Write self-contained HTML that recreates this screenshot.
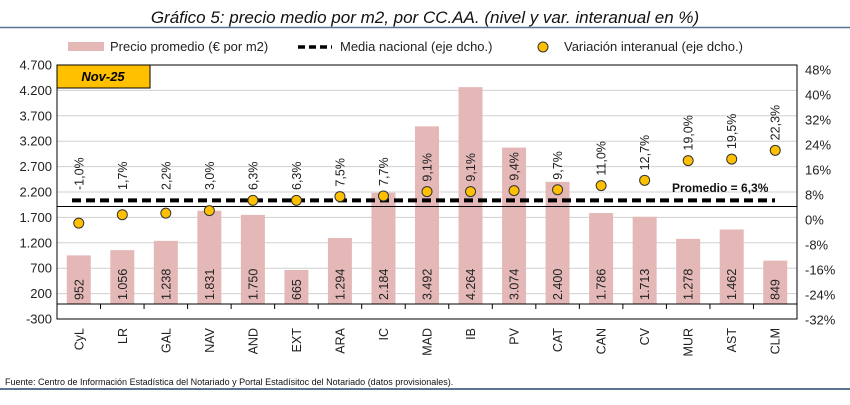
<!DOCTYPE html>
<html><head><meta charset="utf-8"><style>
html,body{margin:0;padding:0;background:#fff;}
svg{display:block;font-family:"Liberation Sans",sans-serif;}
</style></head><body>
<svg width="850" height="405" viewBox="0 0 850 405" xmlns="http://www.w3.org/2000/svg">
<text x="425" y="23" text-anchor="middle" font-size="17" font-style="italic" fill="#111">Gráfico 5: precio medio por m2, por CC.AA. (nivel y var. interanual en %)</text>
<line x1="0" y1="27.5" x2="850" y2="27.5" stroke="#5a7590" stroke-width="1.5"/>
<rect x="68" y="42" width="36" height="9" fill="#e5b8b8"/>
<text x="110" y="51" font-size="13" fill="#222">Precio promedio (€ por m2)</text>
<line x1="298" y1="47" x2="332" y2="47" stroke="#000" stroke-width="3.5" stroke-dasharray="7,4"/>
<text x="340" y="51" font-size="13" fill="#222">Media nacional (eje dcho.)</text>
<circle cx="543" cy="47" r="5" fill="#ffc000" stroke="#333"/>
<text x="564" y="51" font-size="13" fill="#222">Variación interanual (eje dcho.)</text>
<g id="g"></g>
<text x="5" y="385" font-size="9" fill="#111">Fuente: Centro de Información Estadística del Notariado y Portal Estadísitoc del Notariado (datos provisionales).</text>
<line x1="0" y1="389" x2="850" y2="389" stroke="#5a7590" stroke-width="2"/>
</svg>
<script>
var ns="http://www.w3.org/2000/svg",g=document.getElementById("g");
function el(t,a,txt){var e=document.createElementNS(ns,t);for(var k in a)e.setAttribute(k,a[k]);if(txt!=null)e.textContent=txt;g.appendChild(e);return e;}
var L=57,R=797,T=65,B=319;
function yl(v){return T+(4700-v)/5000*254;}
function yr(p){return 220-p*3.125;}
for(var v=-300;v<=4700;v+=500){var y=yl(v);el("line",{x1:L,x2:R,y1:y,y2:y,stroke:"#d0d0d0","stroke-width":1});
el("text",{x:52,y:y+4.5,"text-anchor":"end","font-size":13,fill:"#222"},(v).toLocaleString("de-DE"));}
for(var p=-32;p<=48;p+=8){el("text",{x:805,y:yr(p)+4.5,"font-size":13,fill:"#222"},p+"%");}
var cats=["CyL","LR","GAL","NAV","AND","EXT","ARA","IC","MAD","IB","PV","CAT","CAN","CV","MUR","AST","CLM"];
var vals=[952,1056,1238,1831,1750,665,1294,2184,3492,4264,3074,2400,1786,1713,1278,1462,849];
var pct=[-1.0,1.7,2.2,3.0,6.3,6.3,7.5,7.7,9.1,9.1,9.4,9.7,11.0,12.7,19.0,19.5,22.3];
var w=(R-L)/17;
for(var i=0;i<17;i++){var cx=L+w*(i+0.5);
el("rect",{x:cx-12,y:yl(vals[i]),width:24,height:yl(0)-yl(vals[i]),fill:"#e5b8b8"});
el("text",{transform:"translate("+(cx+4.5)+",300) rotate(-90)","font-size":12.5,fill:"#222"},vals[i].toLocaleString("de-DE"));
el("text",{transform:"translate("+(cx+4.5)+",328) rotate(-90)","text-anchor":"end","font-size":12.5,fill:"#222"},cats[i]);
}
el("line",{x1:L,x2:R,y1:206.5,y2:206.5,stroke:"#000","stroke-width":1});
el("line",{x1:L,x2:R,y1:304,y2:304,stroke:"#000","stroke-width":1});
for(var i=1;i<17;i++){var x=L+w*i;el("line",{x1:x,x2:x,y1:304,y2:309,stroke:"#000"});}
el("rect",{x:L,y:T,width:R-L,height:B-T,fill:"none",stroke:"#000","stroke-width":1});
el("line",{x1:72,x2:775,y1:yr(6.3),y2:yr(6.3),stroke:"#000","stroke-width":4,"stroke-dasharray":"9,5"});
el("text",{x:672,y:192,"font-size":12,"font-weight":"bold",fill:"#111"},"Promedio = 6,3%");
for(var i=0;i<17;i++){var cx=L+w*(i+0.5),y=yr(pct[i]);
el("circle",{cx:cx,cy:y,r:5,fill:"#ffc000",stroke:"#333","stroke-width":1});
var b=Math.min(190,y-10);
el("text",{transform:"translate("+(cx+4.5)+","+b+") rotate(-90)","font-size":12.5,fill:"#222"},pct[i].toFixed(1).replace(".",",")+"%");
}
el("rect",{x:57,y:65,width:93,height:23,fill:"#ffc000",stroke:"#000","stroke-width":1});
el("text",{x:103,y:81,"text-anchor":"middle","font-size":13,"font-weight":"bold","font-style":"italic",fill:"#000"},"Nov-25");
</script>
</body></html>
